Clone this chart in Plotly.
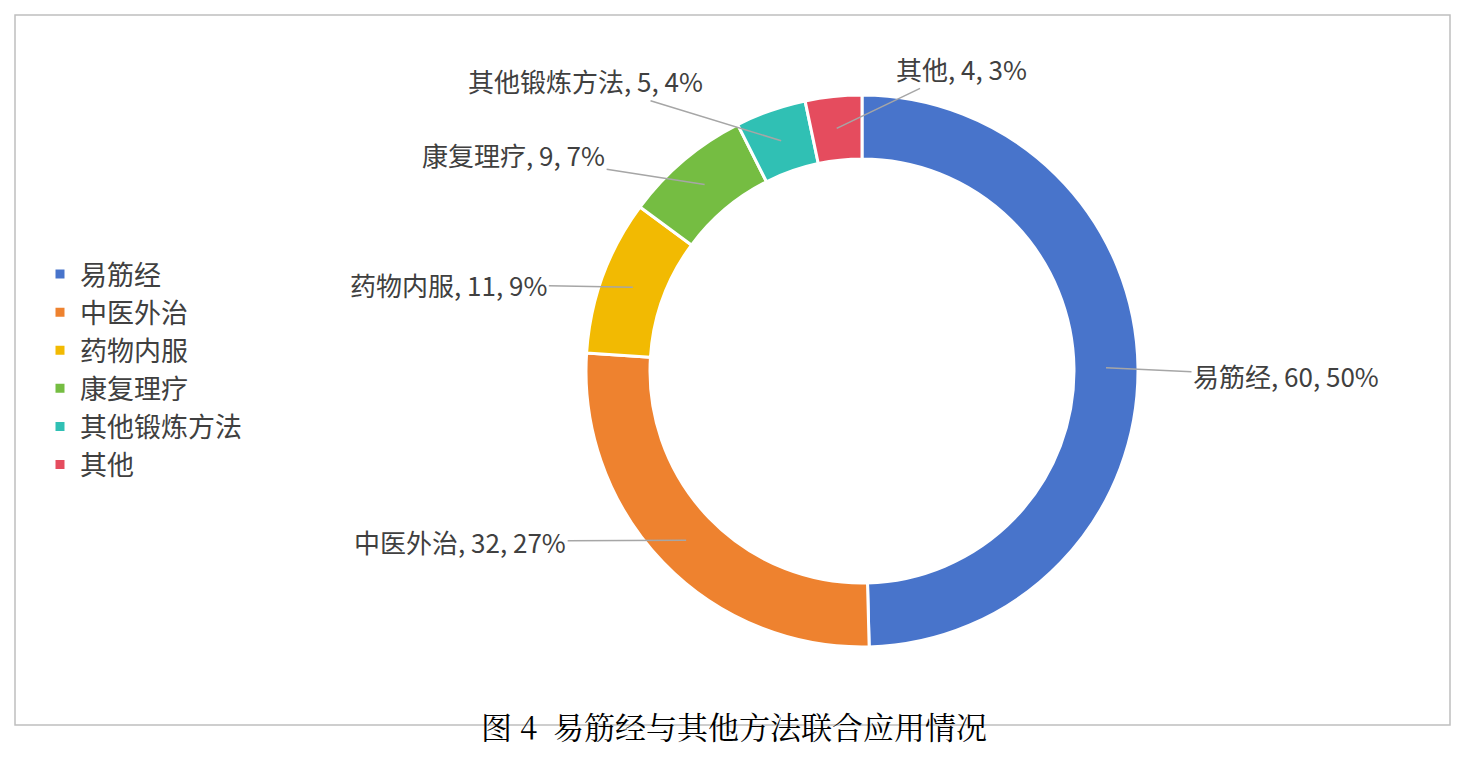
import math
import plotly.graph_objects as go

categories = ["易筋经", "中医外治", "药物内服", "康复理疗", "其他锻炼方法", "其他"]
values = [60, 32, 11, 9, 5, 4]
pct_labels = ["50%", "27%", "9%", "7%", "4%", "3%"]
colors = ["#4874CB", "#EE822F", "#F2BA02", "#75BD42", "#30C0B4", "#E54C5E"]
# label offsets (pixels) from leader-line tip to label center
offsets = [(180, 8), (-226, 1), (-184, -3), (-191, -30), (-196, -60), (125, -60)]

OFF = 8  # page body margin
W, H = 1468 - 2 * OFF, 784 - 2 * OFF
cx, cy, R, r_in = 862 - OFF, 371 - OFF, 276, 212

fig = go.Figure(go.Pie(
    labels=categories, values=values, hole=r_in / R, sort=False,
    direction="clockwise", rotation=0, textinfo="none",
    marker=dict(colors=colors, line=dict(color="white", width=3)),
    domain=dict(x=[(cx - R) / W, (cx + R) / W], y=[1 - (cy + R) / H, 1 - (cy - R) / H]),
    hoverinfo="label+value+percent",
))

total = sum(values)
cum = 0
anns = []
rm = (R + r_in) / 2
for cat, v, p, (ax, ay) in zip(categories, values, pct_labels, offsets):
    a = (cum + v / 2) / total * 2 * math.pi
    cum += v
    tx = cx + rm * math.sin(a)
    ty = cy - rm * math.cos(a)
    anns.append(dict(x=tx / W, y=1 - ty / H, xref="paper", yref="paper",
                     text=f"{cat}, {v}, {p}", showarrow=True, arrowhead=0, standoff=0,
                     arrowwidth=1.5, arrowcolor="#A6A6A6", ax=ax, ay=ay,
                     font=dict(size=26, color="#404040")))
anns.append(dict(x=0.5, y=1 - (750 - OFF) / H, xref="paper", yref="paper", showarrow=False,
                 text="图 4  易筋经与其他方法联合应用情况",
                 font=dict(size=31, color="black", family="Noto Serif CJK SC, Noto Sans CJK SC")))

fig.update_layout(
    width=W, height=H, margin=dict(l=0, r=0, t=0, b=0),
    paper_bgcolor="white", plot_bgcolor="white",
    font=dict(family="Noto Sans CJK SC, sans-serif", color="#404040"),
    annotations=anns,
    legend=dict(x=(40 - OFF) / W, y=1 - (250 - OFF) / H, xanchor="left", yanchor="top",
                font=dict(size=27, color="#404040"), tracegroupgap=0, itemwidth=30),
    shapes=[dict(type="rect", xref="paper", yref="paper", x0=(15 - OFF) / W, x1=(1450 - OFF) / W,
                 y0=1 - (725 - OFF) / H, y1=1 - (15 - OFF) / H, line=dict(color="#BFBFBF", width=1.5))],
)
fig.write_html("out.html")
